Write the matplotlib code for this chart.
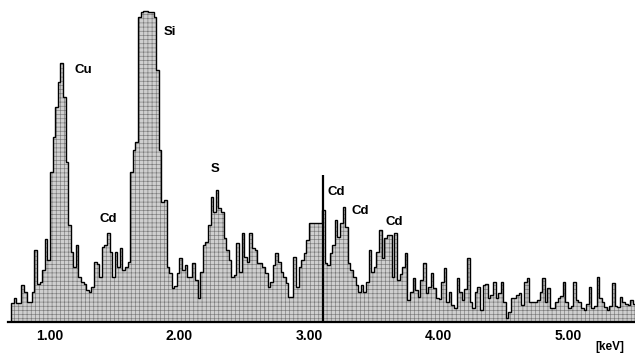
import numpy as np
import matplotlib
matplotlib.use("Agg")
import matplotlib.pyplot as plt

# ---- data: EDS spectrum, counts per 0.02 keV channel starting at 0.70 keV ----
start_kev = 0.70
channel_kev = 0.02
counts = [
    19, 24, 19, 19, 37, 30, 20, 20, 30, 72,
    38, 40, 52, 83, 62, 150, 185, 215, 240, 259,
    225, 160, 97, 70, 55, 77, 45, 40, 38, 32,
    30, 35, 60, 58, 45, 75, 77, 89, 70, 45,
    70, 55, 74, 52, 55, 60, 150, 172, 180, 305,
    310, 311, 311, 310, 310, 305, 252, 172, 120, 122,
    55, 49, 34, 36, 49, 64, 52, 57, 45, 45,
    59, 42, 24, 50, 77, 80, 97, 125, 110, 132,
    114, 110, 84, 72, 62, 45, 47, 79, 50, 89,
    65, 60, 89, 74, 72, 59, 59, 55, 49, 35,
    40, 57, 69, 60, 50, 45, 39, 25, 25, 65,
    35, 55, 62, 69, 82, 99, 99, 99, 99, 99,
    112, 59, 57, 69, 77, 102, 85, 99, 115, 95,
    59, 52, 45, 37, 30, 37, 30, 40, 72, 50,
    55, 70, 92, 64, 84, 87, 87, 45, 89, 42,
    48, 55, 69, 22, 30, 44, 32, 25, 42, 59,
    29, 35, 49, 34, 24, 23, 40, 54, 20, 30,
    17, 14, 44, 30, 22, 33, 64, 20, 14, 30,
    35, 12, 37, 38, 24, 27, 40, 24, 29, 40,
    20, 4, 10, 24, 24, 27, 29, 17, 40, 44,
    20, 20, 20, 22, 30, 44, 20, 34, 14, 14,
    20, 24, 26, 40, 20, 14, 16, 40, 22, 20,
    14, 12, 18, 35, 14, 16, 45, 24, 20, 15,
    12, 16, 39, 16, 15, 25, 20, 18, 17, 22,
    18,
]

tick_values = [1.0, 2.0, 3.0, 4.0, 5.0]
tick_labels = ["1.00", "2.00", "3.00", "4.00", "5.00"]

peak_labels = ["Cu", "Si", "S", "Cd", "Cd", "Cd", "Cd"]
peak_label_kev = [1.255, 1.930, 2.274, 1.448, 3.208, 3.394, 3.657]
peak_label_counts = [252, 290, 153, 103, 130, 111, 100]

cursor_kev = 3.105
cursor_counts = 147

# ---- figure ----
plt.rcParams["hatch.linewidth"] = 0.45
W, H = 635, 353
fig = plt.figure(figsize=(W / 100, H / 100), dpi=100)
fig.patch.set_facecolor("white")
ax = fig.add_axes([8 / W, 31 / H, 627 / W, 317 / H])

vals = np.asarray(counts, dtype=float)
edges = start_kev + channel_kev * np.arange(len(vals) + 1)

# gray halftone-like fill
ax.stairs(vals, edges, fill=True, facecolor="#cfcfcf", edgecolor="none", zorder=1)
ax.stairs(vals, edges, fill=True, facecolor="none", edgecolor="#7a7a7a",
          hatch="++++", linewidth=0, zorder=2)
# outline
ax.stairs(vals, edges, fill=False, color="black", linewidth=1.0, zorder=3)

# cursor line
ax.vlines(cursor_kev, 0, cursor_counts, color="black", linewidth=1.6, zorder=4)

for lab, xk, yc in zip(peak_labels, peak_label_kev, peak_label_counts):
    ax.text(xk, yc, lab, ha="center", va="center", fontsize=9.5,
            fontweight="bold", family="Liberation Sans", color="black", zorder=5)

ax.set_xlim(0.676, 5.517)
ax.set_ylim(0, 317)

for s in ["left", "right", "top"]:
    ax.spines[s].set_visible(False)
ax.spines["bottom"].set_linewidth(1.6)
ax.spines["bottom"].set_zorder(6)
ax.set_yticks([])
ax.set_xticks(tick_values)
ax.set_xticklabels(tick_labels, fontsize=10, fontweight="bold", family="Liberation Sans")
ax.tick_params(axis="x", length=0, pad=5)
ax.set_facecolor("white")

fig.text(610 / W, 1 - 347 / H, "[keV]", ha="center", va="center", fontsize=8.5,
         fontweight="bold", family="Liberation Sans")

fig.savefig("out.png", dpi=100, facecolor="white")
